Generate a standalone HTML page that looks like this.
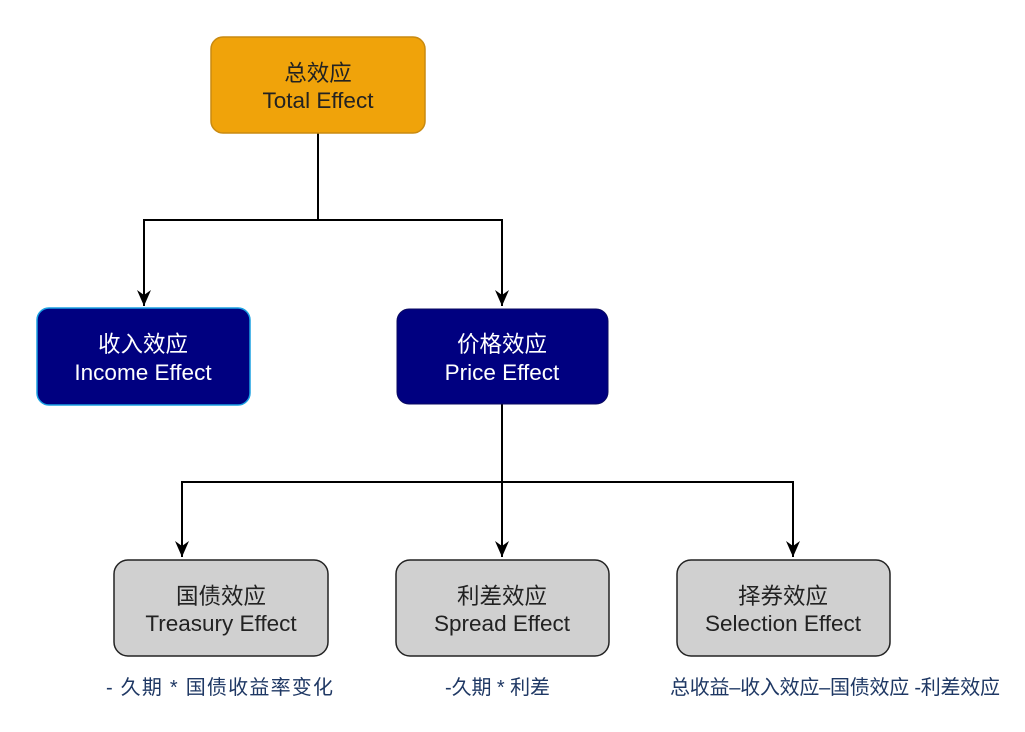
<!DOCTYPE html>
<html><head><meta charset="utf-8"><style>
body{margin:0;background:#fff;width:1025px;height:727px;overflow:hidden}
text{font-family:"Liberation Sans","Noto Sans CJK SC",sans-serif}
</style></head><body>
<svg width="1025" height="727" xmlns="http://www.w3.org/2000/svg">
<defs>
<marker id="b" viewBox="0 0 14 16" markerWidth="14" markerHeight="16" refX="7" refY="16" orient="0" markerUnits="userSpaceOnUse"><path d="M0,0 L7,5 L14,0 L7,16 Z" fill="#000"/></marker></defs>
<g stroke="#000" stroke-width="2" fill="none">
<path d="M318,133 V220 H144 V306" marker-end="url(#b)"/>
<path d="M318,220 H502 V306" marker-end="url(#b)"/>
<path d="M502,404 V482 H182 V557" marker-end="url(#b)"/>
<path d="M502,482 V557" marker-end="url(#b)"/>
<path d="M502,482 H793 V557" marker-end="url(#b)"/>
</g>
<rect x="211" y="37" width="214" height="96" rx="12" fill="#f0a30a" stroke="#c98a10" stroke-width="1.5"/>
<rect x="37" y="308" width="213" height="97" rx="12" fill="#000080" stroke="#1ba1e2" stroke-width="1.5"/>
<rect x="397" y="309" width="211" height="95" rx="12" fill="#000080" stroke="#0a0a60" stroke-width="1"/>
<g fill="#d0d0d0" stroke="#222" stroke-width="1.5">
<rect x="114" y="560" width="214" height="96" rx="14"/>
<rect x="396" y="560" width="213" height="96" rx="14"/>
<rect x="677" y="560" width="213" height="96" rx="14"/>
</g>
<g font-size="22.5" text-anchor="middle">
<text x="318" y="81" fill="#222">总效应</text><text x="318" y="108" fill="#222">Total Effect</text>
<text x="143" y="352" fill="#fff">收入效应</text><text x="143" y="380" fill="#fff">Income Effect</text>
<text x="502" y="352" fill="#fff">价格效应</text><text x="502" y="380" fill="#fff">Price Effect</text>
<text x="221" y="604" fill="#222">国债效应</text><text x="221" y="631" fill="#222">Treasury Effect</text>
<text x="502" y="604" fill="#222">利差效应</text><text x="502" y="631" fill="#222">Spread Effect</text>
<text x="783" y="604" fill="#222">择券效应</text><text x="783" y="631" fill="#222">Selection Effect</text>
</g>
<g font-size="20" fill="#1f3864">
<text x="106" y="694" textLength="227">- 久期 * 国债收益率变化</text>
<text x="445" y="694" textLength="105">-久期 * 利差</text>
<text x="670" y="694" textLength="330">总收益–收入效应–国债效应 -利差效应</text>
</g>
</svg>
</body></html>
